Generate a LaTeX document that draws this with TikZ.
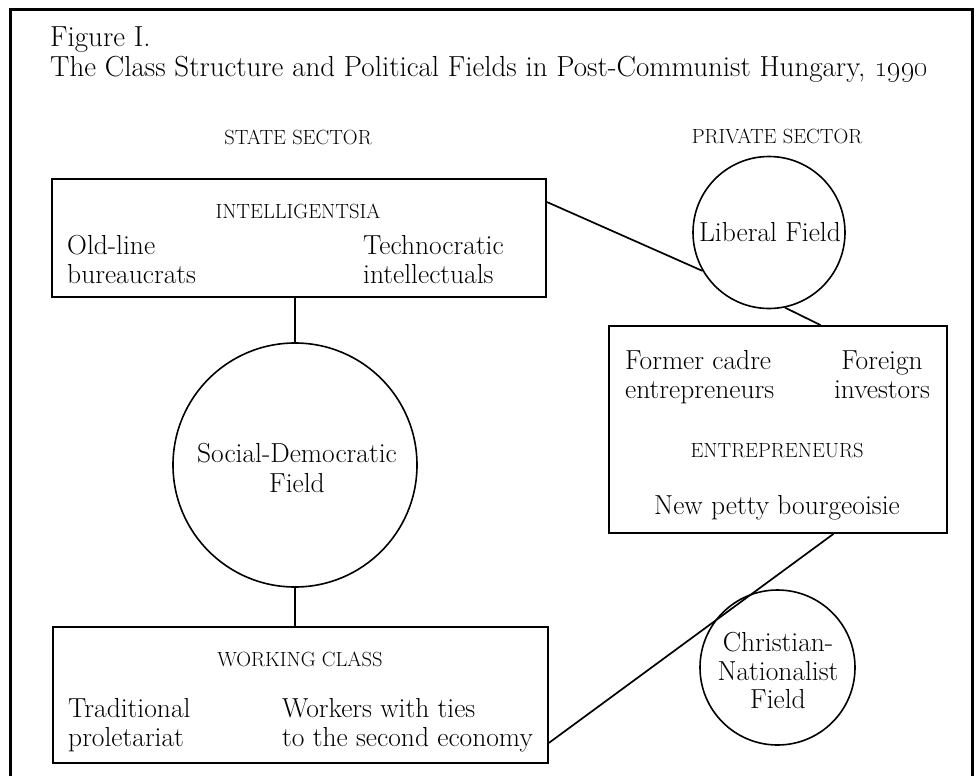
\documentclass[tikz,border=0pt]{standalone}
\usetikzlibrary{calc}
\tikzset{
  boxst/.style={draw, rectangle, line width=1.9pt, inner sep=0pt},
  fieldst/.style={draw, circle, line width=1.6pt, inner sep=0pt},
  link/.style={line width=1.7pt},
  body/.style={font=\fontsize{27.5}{32}\selectfont, inner sep=0pt},
  caps/.style={font=\fontsize{20.5}{24}\selectfont, inner sep=0pt},
  ttl/.style={font=\fontsize{29}{34}\selectfont, inner sep=0pt},
}
\begin{document}
\begin{tikzpicture}[x=1pt,y=-1pt]
\useasboundingbox (0,0) rectangle (977,776);
% outer frame
\draw[line width=3pt] (10,800) -- (10,10) -- (972,10) -- (972,800);

% title
\node[ttl, anchor=base west] (t1) at (50,47) {Figure I.};
\node[ttl, anchor=base west] (t2) at (50,77) {The Class Structure and Political Fields in Post-Communist Hungary, \oldstylenums{1990}};

% sector headings
\node[caps, anchor=base] (state) at (298,144) {STATE SECTOR};
\node[caps, anchor=base] (private) at (777,143) {PRIVATE SECTOR};

% boxes
\node[boxst, minimum width=494pt, minimum height=118pt] (intel) at (299,238) {};
\node[boxst, minimum width=338pt, minimum height=207pt] (ent) at (778,429.5) {};
\node[boxst, minimum width=495pt, minimum height=136pt] (work) at (300.5,695) {};

% circles
\node[fieldst, minimum size=244pt] (socdem) at (295,465) {};
\node[fieldst, minimum size=152pt] (lib) at (769,232.5) {};
\node[fieldst, minimum size=155pt] (chr) at (777.5,667.5) {};

% intelligentsia texts
\node[caps, anchor=base] (intelT) at (298,218.5) {INTELLIGENTSIA};
\node[body, anchor=base west] (old1) at (67,254) {Old-line};
\node[body, anchor=base west] (old2) at (67,283) {bureaucrats};
\node[body, anchor=base west] (tec1) at (363,254) {Technocratic};
\node[body, anchor=base west] (tec2) at (363,283) {intellectuals};

% entrepreneurs texts
\node[body, anchor=base west] (fc1) at (625,369) {Former cadre};
\node[body, anchor=base west] (fc2) at (625,398) {entrepreneurs};
\node[body, anchor=base] (fi1) at (882,369) {Foreign};
\node[body, anchor=base] (fi2) at (882,398) {investors};
\node[caps, anchor=base] (entT) at (777,457) {ENTREPRENEURS};
\node[body, anchor=base] (npb) at (777,514) {New petty bourgeoisie};

% working class texts
\node[caps, anchor=base] (workT) at (300,666) {WORKING CLASS};
\node[body, anchor=base west] (tp1) at (68,717) {Traditional};
\node[body, anchor=base west] (tp2) at (68,746) {proletariat};
\node[body, anchor=base west] (wt1) at (282,717) {Workers with ties};
\node[body, anchor=base west] (wt2) at (282,746) {to the second economy};

% circle texts
\node[body, anchor=base] (sd1) at (297,462) {Social-Democratic};
\node[body, anchor=base] (sd2) at (297,492) {Field};
\node[body, anchor=base] (lf) at (770,241) {Liberal Field};
\node[body, anchor=base] (cn1) at (778,651) {Christian-};
\node[body, anchor=base] (cn2) at (778,680) {Nationalist};
\node[body, anchor=base] (cn3) at (778,708) {Field};

% connectors
\draw[link] (intel.south -| socdem.north) -- (socdem.north);
\draw[link] (socdem.south) -- (socdem.south |- work.north);
\draw[link] ($(intel.north east)!0.2!(intel.south east)$) -- (lib.210);
\draw[link] (lib.282) -- ($(ent.north west)!0.625!(ent.north east)$);
\draw[link] ($(work.north east)!0.847!(work.south east)$) -- ($(ent.south west)!0.663!(ent.south east)$);
\end{tikzpicture}
\end{document}
